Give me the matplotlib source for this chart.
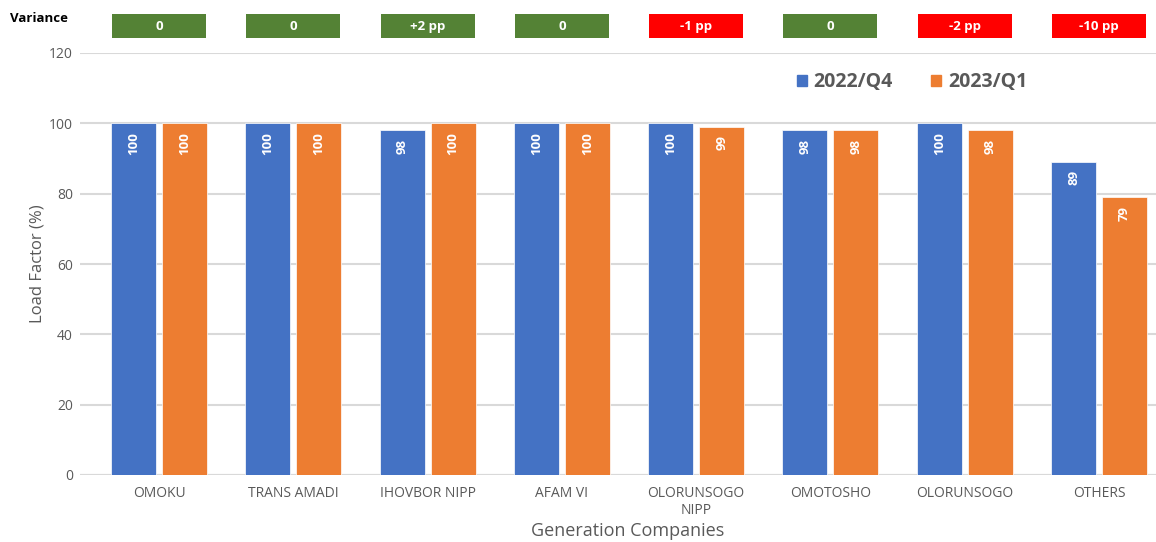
import matplotlib
matplotlib.use('Agg')
import matplotlib.pyplot as plt
from matplotlib.patches import Rectangle, Patch
import numpy as np

companies = ['OMOKU', 'TRANS AMADI', 'IHOVBOR NIPP', 'AFAM VI',
             'OLORUNSOGO\nNIPP', 'OMOTOSHO', 'OLORUNSOGO', 'OTHERS']
q4_2022 = [100, 100, 98, 100, 100, 98, 100, 89]
q1_2023 = [100, 100, 100, 100, 99, 98, 98, 79]
variance = ['0', '0', '+2 pp', '0', '-1 pp', '0', '-2 pp', '-10 pp']
series_names = ['2022/Q4', '2023/Q1']

BLUE = '#4472C4'
ORANGE = '#ED7D31'
GREEN = '#548235'
RED = '#FF0000'
GRID = '#D9D9D9'
TXT = '#595959'

plt.rcParams['font.family'] = ['Open Sans', 'DejaVu Sans']

W, H = 1156, 542
fig = plt.figure(figsize=(W / 100, H / 100), dpi=100)
ax = fig.add_axes([80 / W, 1 - 475 / H, 1 - 80 / W, (475 - 53) / H])

x = np.arange(len(companies))
bw = 0.335
off = 0.19
b1 = ax.bar(x - off, q4_2022, bw, color=BLUE, edgecolor='white', linewidth=0.5, zorder=3)
b2 = ax.bar(x + off, q1_2023, bw, color=ORANGE, edgecolor='white', linewidth=0.5, zorder=3)

for bars, vals in ((b1, q4_2022), (b2, q1_2023)):
    for r, v in zip(bars, vals):
        ax.annotate(str(v), (r.get_x() + r.get_width() / 2, v),
                    xytext=(0, -6), textcoords='offset points',
                    rotation=90, ha='center', va='top', color='white',
                    fontsize=9.5, fontweight='bold', zorder=4)

ax.set_ylim(0, 120)
ax.set_xlim(-0.588, 7.424)
ax.set_yticks(range(0, 121, 20))
ax.set_xticks(x)
ax.set_xticklabels(companies)
ax.tick_params(axis='both', length=0, colors=TXT, labelsize=10)
ax.tick_params(axis='x', pad=8)
ax.tick_params(axis='y', pad=5)
ax.grid(axis='y', color=GRID, linewidth=1.5, zorder=0)
for s in ax.spines.values():
    s.set_visible(False)
ax.axhline(0, color=GRID, linewidth=1.5, zorder=2)

ax.set_ylabel('Load Factor (%)', color=TXT, fontsize=12)
ax.yaxis.set_label_coords(-35 / (W - 80), 0.5)
fig.text(628 / W, 1 - 531 / H, 'Generation Companies', ha='center', va='center',
         color=TXT, fontsize=13)

# variance boxes above the plot
for i, v in enumerate(variance):
    col = RED if v.startswith('-') else GREEN
    ax.add_patch(Rectangle((x[i] - 0.35, 124.2), 0.7, 6.9, facecolor=col,
                           edgecolor='none', clip_on=False, zorder=5))
    ax.text(x[i], 127.6, v, ha='center', va='center', color='white',
            fontsize=9.5, fontweight='bold', clip_on=False, zorder=6)
fig.text(10 / W, 1 - 19 / H, 'Variance', ha='left', va='center',
         fontsize=9.5, fontweight='bold', color='black')

handles = [Patch(color=BLUE), Patch(color=ORANGE)]
leg = fig.legend(handles, series_names, loc='center',
                 bbox_to_anchor=(912 / W, 1 - 82 / H), ncol=2, frameon=False,
                 handlelength=0.5, handleheight=0.5, handletextpad=0.35,
                 columnspacing=2.0, prop={'size': 14, 'weight': 'bold'})
for t in leg.get_texts():
    t.set_color(TXT)

fig.savefig('out.png', dpi=100)
